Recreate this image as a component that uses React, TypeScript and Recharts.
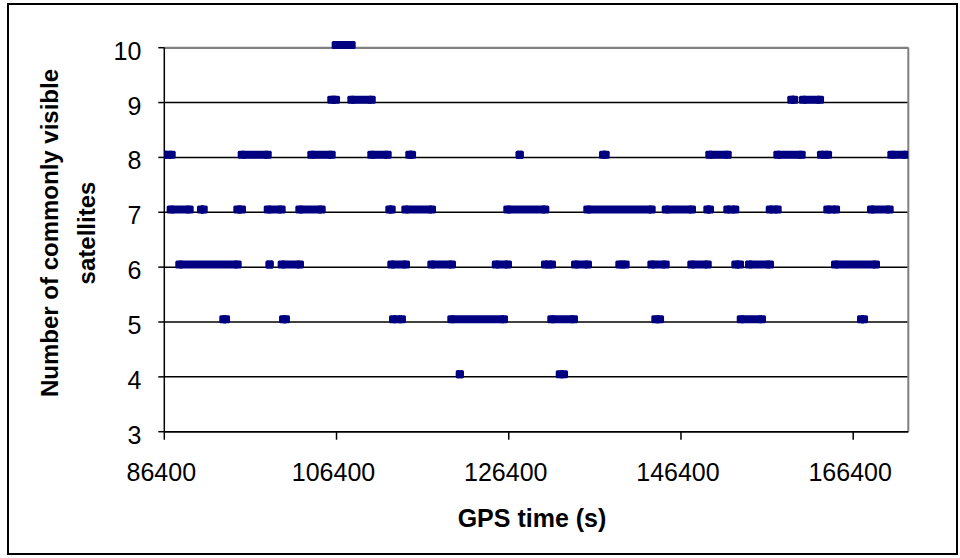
import React from 'react';
import { LineChart, Line, XAxis, YAxis, CartesianGrid, ReferenceLine, Label } from 'recharts';

const NAVY = '#000080';
const FONT = '"Liberation Sans", Arial, sans-serif';

const xTicks = [86400, 106400, 126400, 146400, 166400];
const yTicks = [3, 4, 5, 6, 7, 8, 9, 10];
const xTitle = 'GPS time (s)';
const yTitleLines = ['Number of commonly visible', 'satellites'];

// Runs of consecutive samples: [first GPS time, last GPS time] per satellite count
const level10 = [[106300, 108160]];
const level9 = [
  [105790, 106340], [108120, 110490], [159210, 159560], [160570, 162550],
];
const level8 = [
  [86400, 87260], [95390, 98410], [103470, 105840], [110440, 112340], [114850, 115170],
  [127670, 127670], [137350, 137660], [149690, 151830], [157590, 160420], [162660, 163480],
  [170830, 172530],
];
const level7 = [
  [87140, 89350], [90660, 90980], [94880, 95420], [98410, 100030], [102080, 104680],
  [112530, 112810], [114390, 117490], [126230, 130650], [135520, 143000], [144630, 147680],
  [149460, 149770], [151780, 152710], [156710, 157630], [163390, 164410], [168470, 170640],
];
const level6 = [
  [88140, 94920], [98630, 98630], [100030, 102160], [112760, 114470], [117410, 119810],
  [124890, 126310], [130610, 131420], [134100, 135600], [139240, 139980], [142960, 144630],
  [147600, 149510], [152710, 153260], [154300, 156740], [164290, 169050],
];
const level5 = [
  [93250, 93570], [100190, 100530], [112960, 114000], [119730, 125850], [131340, 133980],
  [143420, 143970], [153340, 155810], [167310, 167660],
];
const level4 = [[120720, 120720], [132320, 132820]];

const levels = [
  { n: 10, runs: level10 },
  { n: 9, runs: level9 },
  { n: 8, runs: level8 },
  { n: 7, runs: level7 },
  { n: 6, runs: level6 },
  { n: 5, runs: level5 },
  { n: 4, runs: level4 },
];

const data: { t: number; n: number | null }[] = [];
levels.forEach(({ n, runs }) => {
  runs.forEach(([s, e]) => {
    data.push({ t: s, n });
    data.push({ t: e, n });
    data.push({ t: e, n: null });
  });
});

const renderDot = (props: any) => {
  const { cx, cy, payload, index } = props;
  if (cx == null || cy == null || payload == null || payload.n == null) {
    return <g key={`d${index}`} />;
  }
  return <rect key={`d${index}`} x={cx - 4} y={cy - 4} width={8} height={8} rx={1.5} fill={NAVY} />;
};

const YTick = (props: any) => {
  const { x, y, payload } = props;
  return (
    <text x={x - 17} y={y + 12} textAnchor="end" fontSize={25} fontFamily={FONT} fill="#000">
      {payload.value}
    </text>
  );
};

const XTick = (props: any) => {
  const { x, y, payload } = props;
  return (
    <text x={x - 3} y={y + 41.5} textAnchor="middle" fontSize={25} fontFamily={FONT} fill="#000">
      {payload.value}
    </text>
  );
};

const renderYTitle = () => (
  <g>
    <text x={58} y={233} transform="rotate(-90 58 233)" textAnchor="middle" fontSize={24}
      fontWeight="bold" fontFamily={FONT} fill="#000">{yTitleLines[0]}</text>
    <text x={94.5} y={233} transform="rotate(-90 94.5 233)" textAnchor="middle" fontSize={24}
      fontWeight="bold" fontFamily={FONT} fill="#000">{yTitleLines[1]}</text>
  </g>
);

const renderXTitle = () => (
  <text x={532} y={527} textAnchor="middle" fontSize={25} fontWeight="bold" fontFamily={FONT} fill="#000">
    {xTitle}
  </text>
);

export default function App() {
  return (
    <div style={{ position: 'absolute', left: 0, top: 0, width: 960, height: 558, background: '#fff' }}>
      <style>{'.sat-line .recharts-line-curve, .recharts-line-dots { transform: translate(0px, -2.7px); }'}</style>
      <div style={{ position: 'absolute', left: 7, top: 3, width: 951, height: 552, border: '2px solid #000', boxSizing: 'border-box' }} />
      <div style={{ position: 'absolute', left: 0, top: 0 }}>
        <LineChart width={960} height={558} data={data}
          margin={{ top: 47.7, right: 51.7, bottom: 66.3, left: 104.3 }}>
          <CartesianGrid vertical={false} stroke="#000" strokeWidth={1.5} />
          <ReferenceLine y={10} stroke="#808080" strokeWidth={2} />
          <ReferenceLine x={172800} stroke="#808080" strokeWidth={2} />
          <XAxis dataKey="t" type="number" domain={[86400, 172800]} ticks={xTicks}
            height={60} tickSize={8} tickMargin={0} tick={<XTick />}
            axisLine={{ stroke: '#000', strokeWidth: 1.5 }} tickLine={{ stroke: '#000', strokeWidth: 1.5 }}
            allowDataOverflow>
            <Label content={renderXTitle} />
          </XAxis>
          <YAxis type="number" domain={[3, 10]} ticks={yTicks} width={60} tickSize={6} tickMargin={0}
            tick={<YTick />} axisLine={{ stroke: '#000', strokeWidth: 1.5 }}
            tickLine={{ stroke: '#000', strokeWidth: 1.5 }} interval={0}>
            <Label content={renderYTitle} />
          </YAxis>
          <Line className="sat-line" type="linear" dataKey="n" stroke={NAVY} strokeWidth={8}
            strokeLinecap="butt" dot={renderDot} activeDot={false} connectNulls={false}
            isAnimationActive={false} />
        </LineChart>
      </div>
    </div>
  );
}
